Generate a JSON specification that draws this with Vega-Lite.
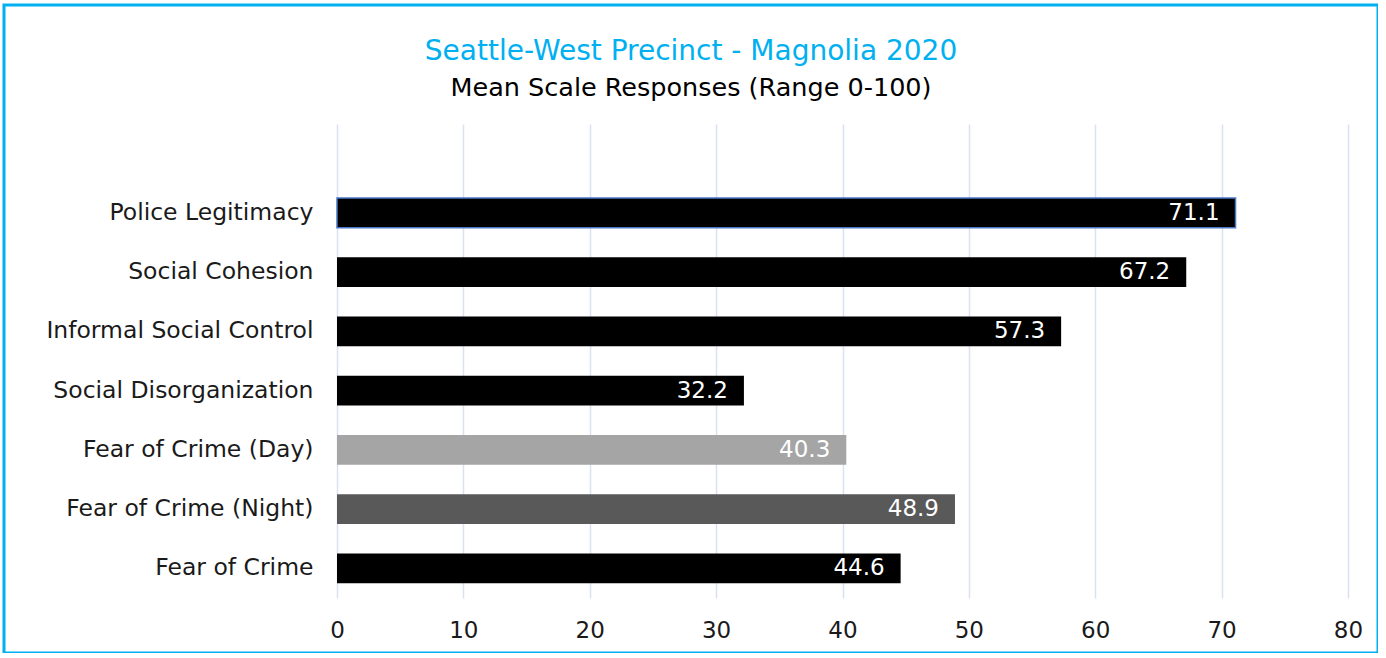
{
  "$schema": "https://vega.github.io/schema/vega-lite/v6.json",
  "width": 1374,
  "height": 648,
  "autosize": "none",
  "padding": {"left": 4, "top": 5, "right": 0, "bottom": 0},
  "background": "white",
  "config": {
    "view": {"stroke": "#00B0F0", "strokeWidth": 3},
    "font": "DejaVu Sans"
  },
  "title": {
    "text": "Seattle-West Precinct - Magnolia 2020",
    "subtitle": "Mean Scale Responses (Range 0-100)",
    "anchor": "middle",
    "frame": "group",
    "color": "#00B0F0",
    "fontSize": 28,
    "fontWeight": "normal",
    "font": "DejaVu Sans",
    "subtitleColor": "#000000",
    "subtitleFontSize": 25.5,
    "subtitleFont": "DejaVu Sans",
    "subtitlePadding": 10,
    "offset": -96
  },
  "data": {
    "values": [
      {"scale": "Police Legitimacy", "mean": 71.1},
      {"scale": "Social Cohesion", "mean": 67.2},
      {"scale": "Informal Social Control", "mean": 57.3},
      {"scale": "Social Disorganization", "mean": 32.2},
      {"scale": "Fear of Crime (Day)", "mean": 40.3},
      {"scale": "Fear of Crime (Night)", "mean": 48.9},
      {"scale": "Fear of Crime", "mean": 44.6}
    ]
  },
  "encoding": {
    "y": {
      "field": "scale",
      "type": "nominal",
      "sort": null,
      "scale": {
        "domain": [" ", "Police Legitimacy", "Social Cohesion", "Informal Social Control", "Social Disorganization", "Fear of Crime (Day)", "Fear of Crime (Night)", "Fear of Crime"],
        "range": [119, 593],
        "paddingInner": 0.5,
        "paddingOuter": 0.25
      },
      "axis": {
        "title": null,
        "domain": false,
        "ticks": false,
        "grid": false,
        "offset": -309,
        "labelPadding": 0,
        "labelFontSize": 23.5,
        "labelColor": "#1a1a1a",
        "labelFont": "DejaVu Sans",
        "labelBaseline": "middle",
        "labelLimit": 400
      }
    },
    "x": {
      "field": "mean",
      "type": "quantitative",
      "scale": {"domain": [0, 80], "range": [333, 1344], "nice": false, "zero": false},
      "axis": {
        "title": null,
        "values": [0, 10, 20, 30, 40, 50, 60, 70, 80],
        "grid": false,
        "domain": false,
        "ticks": true,
        "tickSize": -474,
        "tickColor": "#D9E1F2",
        "tickWidth": 1.5,
        "offset": -55,
        "labelPadding": 506,
        "labelFontSize": 23,
        "labelColor": "#1a1a1a",
        "labelFont": "DejaVu Sans",
        "labelBaseline": "middle",
        "labelFlush": false
      }
    }
  },
  "layer": [
    {
      "mark": {"type": "bar"},
      "encoding": {
        "color": {
          "field": "scale",
          "type": "nominal",
          "scale": {
            "domain": ["Police Legitimacy", "Social Cohesion", "Informal Social Control", "Social Disorganization", "Fear of Crime (Day)", "Fear of Crime (Night)", "Fear of Crime"],
            "range": ["#000000", "#000000", "#000000", "#000000", "#A5A5A5", "#595959", "#000000"]
          },
          "legend": null
        },
        "stroke": {
          "condition": {"test": "datum.scale === 'Police Legitimacy'", "value": "#4A78C8"},
          "value": null
        },
        "strokeWidth": {"value": 1.5}
      }
    },
    {
      "mark": {"type": "text", "align": "right", "baseline": "middle", "dx": -16, "fontSize": 23, "font": "DejaVu Sans", "color": "#FFFFFF"},
      "encoding": {
        "text": {"field": "mean", "type": "quantitative", "format": ".1f"}
      }
    }
  ]
}
